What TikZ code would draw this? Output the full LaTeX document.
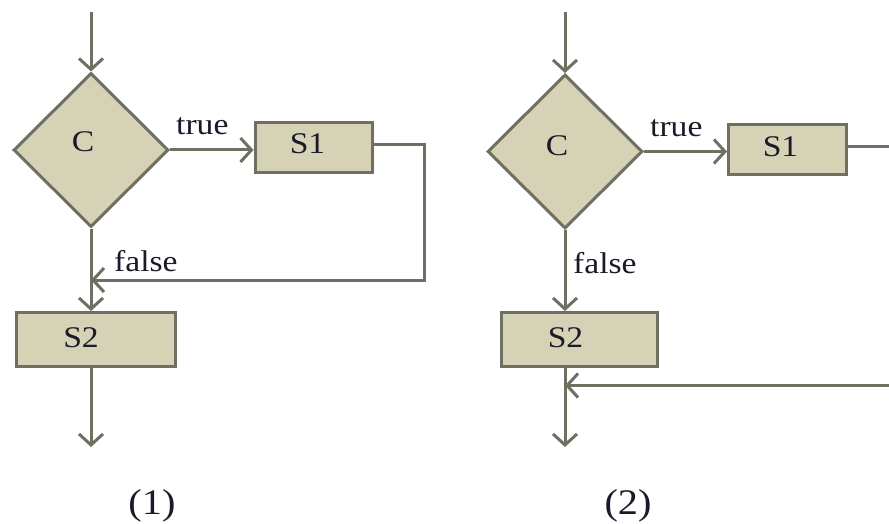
\documentclass[tikz,border=0pt]{standalone}
\usepackage{fontspec}
\setmainfont[FakeStretch=1.12]{Liberation Serif}
\usetikzlibrary{shapes.geometric,arrows.meta}
\definecolor{lc}{RGB}{112,112,98}
\definecolor{fc}{RGB}{213,210,182}
\definecolor{tc}{RGB}{26,26,40}
\tikzset{
  arr/.style={draw=lc,line width=3pt,-{Straight Barb[length=11pt,width=24pt]}},
  ln/.style={draw=lc,line width=3pt},
  dia/.style={diamond,aspect=1,draw=lc,fill=fc,line width=3pt,inner sep=0pt,text=tc,font=\fontsize{30}{34}\selectfont},
  sbox/.style={rectangle,draw=lc,fill=fc,line width=3pt,inner sep=0pt,text=tc,font=\fontsize{30}{34}\selectfont},
  lab/.style={text=tc,font=\fontsize{30}{34}\selectfont,inner sep=0pt},
  captxt/.style={text=tc,font=\fontsize{36}{40}\selectfont,inner sep=0pt}
}
\begin{document}
\begin{tikzpicture}[x=1pt,y=-1pt]
\useasboundingbox (0,0) rectangle (889,524);
% ---------- diagram 1 ----------
\coordinate (t1) at (91,12);
\node[dia,minimum width=155pt,minimum height=154pt,label={[dia,draw=none,fill=none,xshift=-8pt,yshift=8pt]center:C}] (d1) at (91,150) {};
\node[sbox,minimum width=117pt,minimum height=50pt,label={[sbox,draw=none,fill=none,xshift=-6pt,yshift=4pt]center:S1}] (s1) at (313.5,148) {};
\node[sbox,minimum width=159pt,minimum height=54pt,label={[sbox,draw=none,fill=none,xshift=-15pt,yshift=2pt]center:S2}] (s2) at (96,339.5) {};
\coordinate (c1) at (424,280);
\coordinate (j1) at (91,280);
\coordinate (b1) at (91,447);
\draw[arr] (t1) -- (d1.north);
\draw[arr] (d1.east) -- (d1.east -| s1.west);
\draw[arr] (d1.south) -- (d1.south |- s2.north);
\draw[arr] ([yshift=3pt]s1.east) -| (c1) -- (j1);
\draw[arr] (s2.south -| d1.south) -- (b1);
\node[lab,anchor=base west] (tr1) at (176,135) {true};
\node[lab,anchor=base west] (fa1) at (114,271) {false};
\node[captxt,anchor=base] (n1) at (152,514) {(1)};
% ---------- diagram 2 ----------
\coordinate (t2) at (565,12);
\node[dia,minimum width=155pt,minimum height=154pt,label={[dia,draw=none,fill=none,xshift=-8pt,yshift=6pt]center:C}] (d2) at (565,151.5) {};
\node[sbox,minimum width=118pt,minimum height=50pt,label={[sbox,draw=none,fill=none,xshift=-7pt,yshift=3pt]center:S1}] (s3) at (787.5,149.5) {};
\node[sbox,minimum width=156pt,minimum height=54pt,label={[sbox,draw=none,fill=none,xshift=-14pt,yshift=2pt]center:S2}] (s4) at (579.5,339.5) {};
\coordinate (e2) at (889,146.5);
\coordinate (e3) at (889,385.5);
\coordinate (j2) at (565,385.5);
\coordinate (b2) at (565,447);
\draw[arr] (t2) -- (d2.north);
\draw[arr] (d2.east) -- (d2.east -| s3.west);
\draw[arr] (d2.south) -- (d2.south |- s4.north);
\draw[ln] ([yshift=3pt]s3.east) -- (e2);
\draw[arr] (e3) -- (j2);
\draw[arr] (s4.south -| d2.south) -- (b2);
\node[lab,anchor=base west] (tr2) at (650,137) {true};
\node[lab,anchor=base west] (fa2) at (573,273) {false};
\node[captxt,anchor=base] (n2) at (628,514) {(2)};
\end{tikzpicture}
\end{document}
